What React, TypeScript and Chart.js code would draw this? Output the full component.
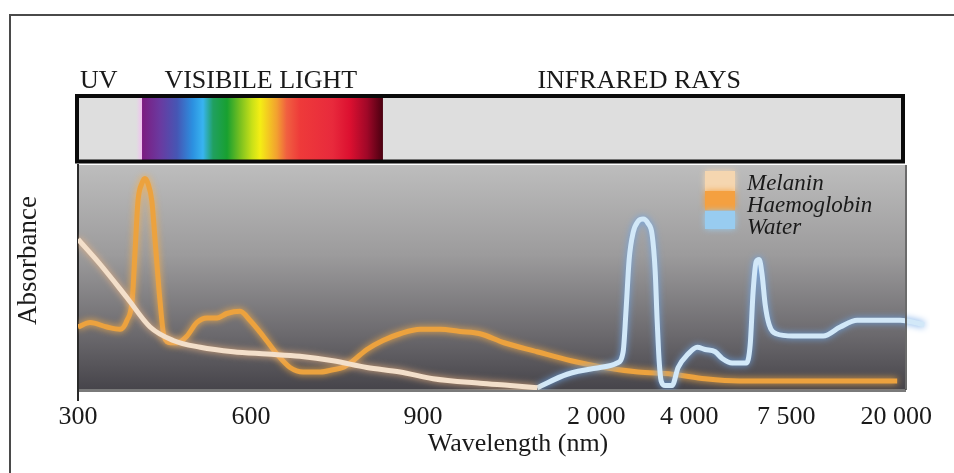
import React, { useEffect, useRef } from "react";
import { Chart, registerables } from "chart.js";

Chart.register(...registerables);

// ---- axis definition (broken wavelength axis) ----
const tickWavelengths = [300, 600, 900, 2000, 4000, 7500, 20000];
const tickLabels = ["300", "600", "900", "2 000", "4 000", "7 500", "20 000"];
// relative widths of the axis segments between successive ticks
const segmentWidths = [173, 172, 173, 93, 97, 110];
const axisMaxNm = 21000;

// ---- series (wavelength in nm, relative absorbance 0-100) ----
const melaninNm = [300, 338, 385, 425, 465, 512, 569, 628, 685, 743, 802, 860, 964, 1262, 1453, 1625];
const melaninAbs = [67, 56, 41, 28, 22, 19, 17, 16, 15, 13, 10, 8, 5, 3, 2, 1];

const haemoglobinNm = [
  300, 321, 350, 373, 385, 394, 399, 404, 411, 416, 421, 428, 435, 442, 449, 460, 472, 489, 506, 524,
  541, 558, 581, 598, 621, 645, 668, 691, 721, 743, 760, 778, 802, 830, 860, 895, 1008, 1135, 1262, 1415,
  1625, 1841, 2172, 2903, 3634, 4577, 5804, 9772, 20110,
];
const haemoglobinAbs = [
  28, 30, 28, 27, 31, 40, 62, 84, 92, 94, 92, 84, 62, 40, 24, 21, 21, 24, 30, 32,
  32, 34, 35, 31, 24, 16, 10, 8, 8, 9, 10, 13, 18, 22, 25, 27, 27, 26, 25, 21,
  17, 13, 10, 8, 7, 5, 4, 4, 4,
];

const waterNm = [
  1625, 1816, 2086, 2452, 2581, 2645, 2710, 2796, 2903, 3011, 3118, 3204, 3269, 3312, 3355, 3398, 3484, 3634,
  3763, 3978, 4289, 4577, 4938, 5191, 5552, 6057, 6201, 6309, 6418, 6526, 6634, 6742, 6887, 7139, 8295,
  11703, 13634, 15566, 17383, 20450, 23180,
];
const waterAbs = [
  1, 7, 10, 12, 17, 36, 58, 70, 75, 76, 74, 69, 53, 31, 13, 4, 2, 2,
  10, 16, 19, 18, 17, 14, 12, 12, 20, 44, 57, 58, 51, 38, 29, 25, 24,
  24, 28, 31, 31, 31, 29,
];

const seriesLabels = ["Melanin", "Haemoglobin", "Water"];

// ---- spectrum band ----
const regionLabels = ["UV", "VISIBILE LIGHT", "INFRARED RAYS"];
const regionCentersNm = [336, 617, 2925];
const visibleStartNm = 411;
const visibleEndNm = 830;

const yTitle = "Absorbance";
const xTitle = "Wavelength (nm)";

// ---- styles ----
const SERIF = "'Liberation Serif', 'DejaVu Serif', serif";
const lineColors = ["#f3dfca", "#eca23e", "#d2e8f8"];
const glowColors = ["rgba(236,180,130,0.95)", "rgba(252,176,70,0.95)", "rgba(110,165,230,1)"];
const swatchColors = ["#f5d6b0", "#f4a040", "#98ccf0"];
const lineOrder = [0, 2, 1];
const spectrumStops: [number, string][] = [
  [0, "#7c1c80"], [0.075, "#6a3aa0"], [0.145, "#4656b4"], [0.21, "#2c90e0"], [0.253, "#38b4f0"],
  [0.295, "#20a060"], [0.353, "#18a030"], [0.407, "#78c020"], [0.456, "#c8e018"], [0.49, "#f4ee14"],
  [0.56, "#f2a030"], [0.6, "#f06040"], [0.656, "#ee3a3a"], [0.79, "#e82a3c"], [0.863, "#dc1030"],
  [0.934, "#a00828"], [1, "#4a0010"],
];

function warp(nm: number): number {
  let cum = 0;
  let i = 0;
  while (i < segmentWidths.length - 1 && nm > tickWavelengths[i + 1]) {
    cum += segmentWidths[i];
    i++;
  }
  const a = tickWavelengths[i];
  const b = tickWavelengths[i + 1];
  return cum + ((nm - a) / (b - a)) * segmentWidths[i];
}

const toPoints = (nm: number[], v: number[]) => nm.map((w, i) => ({ x: warp(w), y: v[i] }));

const glowPlugin = {
  id: "glow",
  beforeDatasetDraw(chart: any, args: any) {
    const ctx = chart.ctx;
    ctx.save();
    ctx.shadowColor = glowColors[args.index];
    ctx.shadowBlur = 7;
  },
  afterDatasetDraw(chart: any) {
    chart.ctx.restore();
  },
};

const decorPlugin = {
  id: "decor",
  beforeDraw(chart: any) {
    const { ctx, chartArea: a, scales } = chart;
    const x = scales.x;
    ctx.save();
    ctx.fillStyle = "#ffffff";
    ctx.fillRect(0, 0, chart.width, chart.height);

    // plot background gradient
    const g = ctx.createLinearGradient(0, a.top, 0, a.bottom);
    g.addColorStop(0, "#bdbdbd");
    g.addColorStop(0.4, "#9c9b9c");
    g.addColorStop(0.75, "#6c6a6e");
    g.addColorStop(1, "#46444a");
    ctx.fillStyle = g;
    ctx.fillRect(a.left, a.top, a.right - a.left, a.bottom - a.top);

    // spectrum band
    const bl = a.left - 1;
    const br = a.right - 2;
    const bt = a.top - 69;
    const bb = a.top - 3.5;
    ctx.fillStyle = "#dedede";
    ctx.fillRect(bl, bt, br - bl, bb - bt);
    const sx0 = x.getPixelForValue(warp(visibleStartNm));
    const sx1 = x.getPixelForValue(warp(visibleEndNm));
    const pink = ctx.createLinearGradient(sx0 - 6, 0, sx0, 0);
    pink.addColorStop(0, "rgba(240,200,240,0)");
    pink.addColorStop(1, "rgba(240,190,240,1)");
    ctx.fillStyle = pink;
    ctx.fillRect(sx0 - 6, bt, 6, bb - bt);
    const sg = ctx.createLinearGradient(sx0, 0, sx1, 0);
    spectrumStops.forEach(([p, c]) => sg.addColorStop(p, c));
    ctx.fillStyle = sg;
    ctx.fillRect(sx0, bt, sx1 - sx0, bb - bt);
    ctx.strokeStyle = "#0a0a0a";
    ctx.lineWidth = 4;
    ctx.strokeRect(bl, bt, br - bl, bb - bt);

    // region labels
    ctx.fillStyle = "#1a1a1a";
    ctx.font = `26px ${SERIF}`;
    ctx.textAlign = "center";
    ctx.textBaseline = "alphabetic";
    regionLabels.forEach((t, i) => {
      ctx.fillText(t, x.getPixelForValue(warp(regionCentersNm[i])), a.top - 77);
    });
    ctx.restore();
  },
  afterDraw(chart: any) {
    const { ctx, chartArea: a } = chart;
    ctx.save();
    // right edge of plot
    ctx.strokeStyle = "rgba(70,70,70,0.8)";
    ctx.lineWidth = 2;
    ctx.beginPath();
    ctx.moveTo(a.right + 1, a.top);
    ctx.lineTo(a.right + 1, a.bottom);
    ctx.stroke();
    // small tick at origin
    ctx.strokeStyle = "#2a2a2a";
    ctx.beginPath();
    ctx.moveTo(a.left, a.bottom);
    ctx.lineTo(a.left, a.bottom + 11);
    ctx.stroke();

    // legend
    const lx = a.right - 200;
    const rows = [
      { top: a.top + 6, h: 20, base: a.top + 25 },
      { top: a.top + 26, h: 19, base: a.top + 47 },
      { top: a.top + 46, h: 18, base: a.top + 69 },
    ];
    chart.data.datasets.forEach((ds: any, i: number) => {
      ctx.save();
      ctx.shadowColor = swatchColors[i];
      ctx.shadowBlur = 6;
      ctx.fillStyle = swatchColors[i];
      ctx.fillRect(lx, rows[i].top, 30, rows[i].h);
      ctx.restore();
      ctx.fillStyle = "#1a1a1a";
      ctx.font = `italic 23px ${SERIF}`;
      ctx.textAlign = "left";
      ctx.textBaseline = "alphabetic";
      ctx.fillText(ds.label, lx + 42, rows[i].base);
    });

    // axis titles
    ctx.fillStyle = "#1a1a1a";
    ctx.font = `27px ${SERIF}`;
    ctx.textAlign = "center";
    ctx.textBaseline = "middle";
    ctx.save();
    ctx.translate(a.left - 49, (a.top + a.bottom) / 2 - 17);
    ctx.rotate(-Math.PI / 2);
    ctx.fillText(yTitle, 0, 0);
    ctx.restore();
    ctx.textBaseline = "alphabetic";
    ctx.font = `26px ${SERIF}`;
    ctx.fillText(xTitle, a.left + 440, a.bottom + 61);

    // outer frame
    ctx.strokeStyle = "#4a4a4a";
    ctx.lineWidth = 2;
    ctx.beginPath();
    ctx.moveTo(10, chart.height);
    ctx.lineTo(10, 15);
    ctx.lineTo(chart.width, 15);
    ctx.stroke();
    ctx.restore();
  },
};

export default function App() {
  const ref = useRef<HTMLCanvasElement | null>(null);
  useEffect(() => {
    if (!ref.current) return;
    const series = [
      toPoints(melaninNm, melaninAbs),
      toPoints(haemoglobinNm, haemoglobinAbs),
      toPoints(waterNm, waterAbs),
    ];
    const chart = new Chart(ref.current, {
      type: "line",
      data: {
        datasets: series.map((data, i) => ({
          label: seriesLabels[i],
          data,
          borderColor: lineColors[i],
          backgroundColor: lineColors[i],
          borderWidth: 5,
          pointRadius: 0,
          cubicInterpolationMode: "monotone" as const,
          fill: false,
          order: lineOrder[i],
          clip: { left: 0, top: 0, right: 25, bottom: 0 },
        })),
      },
      options: {
        responsive: false,
        animation: false,
        devicePixelRatio: 1,
        layout: { padding: { top: 165, right: 49, left: 0, bottom: 0 } },
        plugins: {
          legend: { display: false },
          tooltip: { enabled: false },
        },
        scales: {
          x: {
            type: "linear",
            min: 0,
            max: warp(axisMaxNm),
            afterBuildTicks: (scale: any) => {
              scale.ticks = tickWavelengths.map((nm) => ({ value: warp(nm) }));
            },
            afterFit: (scale: any) => {
              scale.height = 83;
            },
            grid: { display: false, drawTicks: false },
            border: { display: true, color: "#7a7a7a", width: 3 },
            ticks: {
              autoSkip: false,
              maxRotation: 0,
              padding: 12,
              color: "#1a1a1a",
              font: { family: SERIF, size: 26 },
              callback: (_v: any, i: number) => tickLabels[i],
            },
          },
          y: {
            type: "linear",
            min: 0,
            max: 100,
            afterFit: (scale: any) => {
              scale.width = 78;
            },
            grid: { display: false, drawTicks: false },
            border: { display: true, color: "#2a2a2a", width: 2 },
            ticks: { display: false },
          },
        },
      },
      plugins: [decorPlugin, glowPlugin],
    });
    return () => chart.destroy();
  }, []);
  return (
    <div style={{ position: "fixed", left: 0, top: 0, width: 954, height: 473, background: "#fff" }}>
      <canvas ref={ref} width={954} height={473} style={{ display: "block", width: 954, height: 473 }} />
    </div>
  );
}
